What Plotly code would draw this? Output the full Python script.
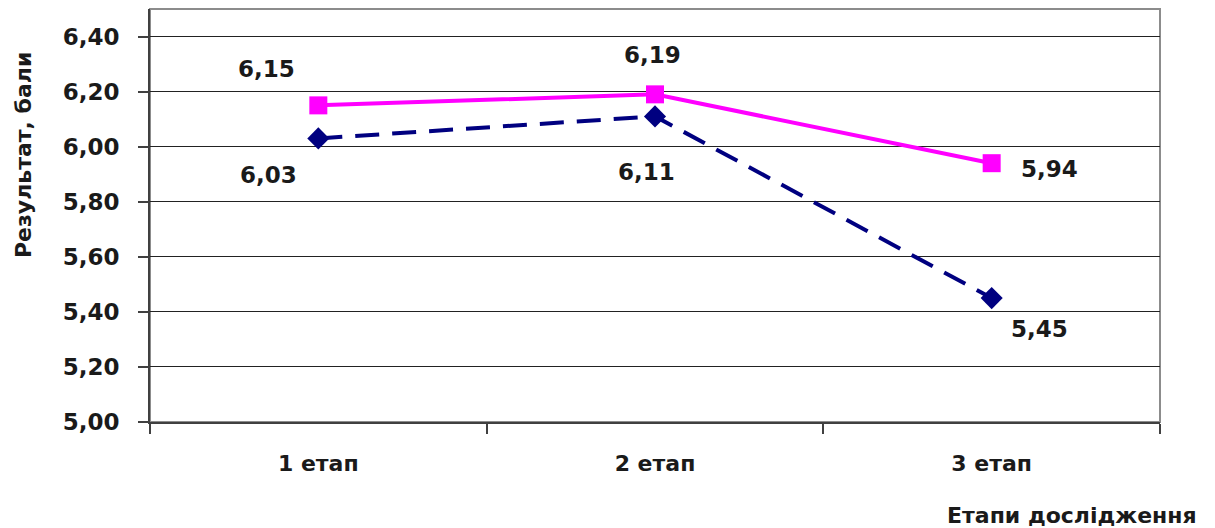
import plotly.graph_objects as go

categories = ["1 етап", "2 етап", "3 етап"]
series_pink = [6.15, 6.19, 5.94]
series_navy = [6.03, 6.11, 5.45]
y_ticks = [5.0, 5.2, 5.4, 5.6, 5.8, 6.0, 6.2, 6.4]

FONT = "DejaVu Sans"
TXT = "#1a1a1a"
fig = go.Figure()

fig.add_trace(go.Scatter(
    x=categories, y=series_navy, mode="lines+markers",
    line=dict(color="#000080", width=4, dash="24px,13px"),
    marker=dict(symbol="diamond", size=17, color="#000080"),
    showlegend=False, hoverinfo="skip"))
fig.add_trace(go.Scatter(
    x=categories, y=series_pink, mode="lines+markers",
    line=dict(color="#FF00FF", width=4),
    marker=dict(symbol="square", size=18, color="#FF00FF"),
    showlegend=False, hoverinfo="skip"))

pink_offsets = [(-52, 36), (-3, 39), (58, -6)]
navy_offsets = [(-50, -37), (-9, -56), (48, -31)]
annotations = []
for c, v, (dx, dy) in zip(categories, series_pink, pink_offsets):
    annotations.append(dict(x=c, y=v, xref="x", yref="y", text=f"{v:.2f}".replace(".", ","),
                            showarrow=False, xshift=dx, yshift=dy,
                            font=dict(family=FONT, size=23, color=TXT, weight="bold")))
for c, v, (dx, dy) in zip(categories, series_navy, navy_offsets):
    annotations.append(dict(x=c, y=v, xref="x", yref="y", text=f"{v:.2f}".replace(".", ","),
                            showarrow=False, xshift=dx, yshift=dy,
                            font=dict(family=FONT, size=23, color=TXT, weight="bold")))

annotations.append(dict(x=-127 / 1010, y=(422 - 155) / 413, xref="paper", yref="paper",
                        text="Результат, бали",
                        textangle=-90, showarrow=False, xanchor="center", yanchor="middle",
                        font=dict(family=FONT, size=22, color=TXT, weight="bold")))
annotations.append(dict(x=1.0 + 39 / 1010, y=-(515 - 422) / 413, xref="paper", yref="paper",
                        text="Етапи дослідження", showarrow=False, xanchor="right", yanchor="middle",
                        font=dict(family=FONT, size=22, color=TXT, weight="bold")))

fig.update_layout(
    width=1215, height=528,
    margin=dict(l=150, r=55, t=9, b=106),
    paper_bgcolor="white", plot_bgcolor="white",
    separators=", ",
    annotations=annotations,
    shapes=[dict(type="rect", xref="paper", yref="paper", x0=0, x1=1, y0=0, y1=1,
                 line=dict(color="#8c8c8c", width=2), layer="below")],
)
fig.update_xaxes(
    type="category", range=[-0.5, 2.5], tickson="boundaries", ticks="outside", ticklen=10,
    tickcolor="#404040", tickwidth=2, showline=True, linecolor="#404040", linewidth=2,
    showgrid=False, ticklabelstandoff=21,
    tickfont=dict(family=FONT, size=22, color=TXT, weight="bold"))
fig.update_yaxes(
    range=[5.0, 6.5], tickvals=y_ticks, tickformat=".2f", ticks="outside", ticklen=10,
    tickcolor="#404040", tickwidth=2, showline=True, linecolor="#404040", linewidth=2,
    showgrid=True, gridcolor="#222222", gridwidth=1, zeroline=False, ticklabelstandoff=14,
    tickfont=dict(family=FONT, size=23, color=TXT, weight="bold"))

fig.write_html("out.html")
